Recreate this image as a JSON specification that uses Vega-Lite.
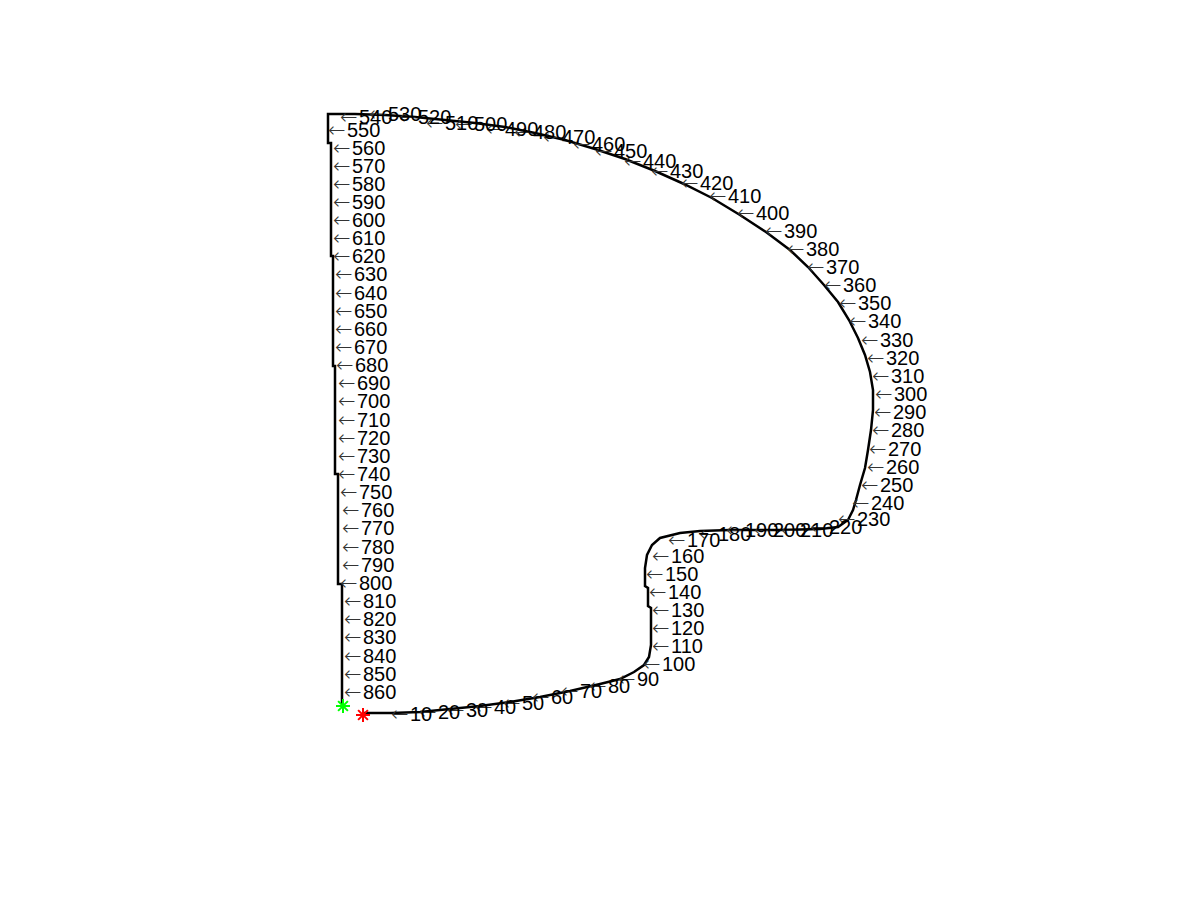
{
  "$schema": "https://vega.github.io/schema/vega-lite/v6.json",
  "width": 1200,
  "height": 900,
  "autosize": {"type": "fit", "contains": "padding"},
  "padding": 0,
  "background": "white",
  "config": {"view": {"stroke": null}},
  "datasets": {
    "path": [
      {"i": 0, "x": 363, "y": 713},
      {"i": 1, "x": 391, "y": 713},
      {"i": 2, "x": 420, "y": 712},
      {"i": 3, "x": 450, "y": 709},
      {"i": 4, "x": 480, "y": 706},
      {"i": 5, "x": 510, "y": 702},
      {"i": 6, "x": 540, "y": 697},
      {"i": 7, "x": 570, "y": 691},
      {"i": 8, "x": 600, "y": 684},
      {"i": 9, "x": 620, "y": 679},
      {"i": 10, "x": 634, "y": 672},
      {"i": 11, "x": 644, "y": 665},
      {"i": 12, "x": 649, "y": 657},
      {"i": 13, "x": 651, "y": 645},
      {"i": 14, "x": 651, "y": 608},
      {"i": 15, "x": 648, "y": 606},
      {"i": 16, "x": 648, "y": 588},
      {"i": 17, "x": 645, "y": 586},
      {"i": 18, "x": 645, "y": 568},
      {"i": 19, "x": 647, "y": 555},
      {"i": 20, "x": 652, "y": 545},
      {"i": 21, "x": 660, "y": 538},
      {"i": 22, "x": 680, "y": 533},
      {"i": 23, "x": 700, "y": 531},
      {"i": 24, "x": 730, "y": 530},
      {"i": 25, "x": 780, "y": 530},
      {"i": 26, "x": 820, "y": 529},
      {"i": 27, "x": 838, "y": 527},
      {"i": 28, "x": 848, "y": 520},
      {"i": 29, "x": 853, "y": 510},
      {"i": 30, "x": 856, "y": 500},
      {"i": 31, "x": 860, "y": 485},
      {"i": 32, "x": 865, "y": 468},
      {"i": 33, "x": 868, "y": 450},
      {"i": 34, "x": 871, "y": 430},
      {"i": 35, "x": 873, "y": 410},
      {"i": 36, "x": 873, "y": 390},
      {"i": 37, "x": 870, "y": 372},
      {"i": 38, "x": 865, "y": 355},
      {"i": 39, "x": 858, "y": 338},
      {"i": 40, "x": 849, "y": 320},
      {"i": 41, "x": 838, "y": 302},
      {"i": 42, "x": 824, "y": 285},
      {"i": 43, "x": 808, "y": 267},
      {"i": 44, "x": 790, "y": 250},
      {"i": 45, "x": 766, "y": 232},
      {"i": 46, "x": 740, "y": 215},
      {"i": 47, "x": 712, "y": 198},
      {"i": 48, "x": 684, "y": 184},
      {"i": 49, "x": 655, "y": 171},
      {"i": 50, "x": 625, "y": 159},
      {"i": 51, "x": 595, "y": 149},
      {"i": 52, "x": 565, "y": 140},
      {"i": 53, "x": 535, "y": 133},
      {"i": 54, "x": 505, "y": 127},
      {"i": 55, "x": 475, "y": 123},
      {"i": 56, "x": 445, "y": 120},
      {"i": 57, "x": 415, "y": 117},
      {"i": 58, "x": 385, "y": 115},
      {"i": 59, "x": 355, "y": 114},
      {"i": 60, "x": 328, "y": 114},
      {"i": 61, "x": 328, "y": 143},
      {"i": 62, "x": 331, "y": 143},
      {"i": 63, "x": 331, "y": 256},
      {"i": 64, "x": 333, "y": 256},
      {"i": 65, "x": 333, "y": 366},
      {"i": 66, "x": 335, "y": 366},
      {"i": 67, "x": 335, "y": 474},
      {"i": 68, "x": 338, "y": 474},
      {"i": 69, "x": 338, "y": 584},
      {"i": 70, "x": 342, "y": 584},
      {"i": 71, "x": 342, "y": 704}
    ],
    "labels": [
      {"n": 10, "x": 391, "y": 715},
      {"n": 20, "x": 419, "y": 713},
      {"n": 30, "x": 447, "y": 711},
      {"n": 40, "x": 475, "y": 708},
      {"n": 50, "x": 503, "y": 704},
      {"n": 60, "x": 532, "y": 698},
      {"n": 70, "x": 561, "y": 692},
      {"n": 80, "x": 589, "y": 687},
      {"n": 90, "x": 618, "y": 680},
      {"n": 100, "x": 643, "y": 665},
      {"n": 110, "x": 652, "y": 647},
      {"n": 120, "x": 652, "y": 629},
      {"n": 130, "x": 652, "y": 611},
      {"n": 140, "x": 649, "y": 593},
      {"n": 150, "x": 646, "y": 575},
      {"n": 160, "x": 652, "y": 557},
      {"n": 170, "x": 668, "y": 541},
      {"n": 180, "x": 699, "y": 535},
      {"n": 190, "x": 726, "y": 531},
      {"n": 200, "x": 754, "y": 531},
      {"n": 210, "x": 781, "y": 531},
      {"n": 220, "x": 810, "y": 528},
      {"n": 230, "x": 838, "y": 520},
      {"n": 240, "x": 852, "y": 504},
      {"n": 250, "x": 861, "y": 486},
      {"n": 260, "x": 867, "y": 468},
      {"n": 270, "x": 869, "y": 450},
      {"n": 280, "x": 872, "y": 431},
      {"n": 290, "x": 874, "y": 413},
      {"n": 300, "x": 875, "y": 395},
      {"n": 310, "x": 872, "y": 377},
      {"n": 320, "x": 867, "y": 359},
      {"n": 330, "x": 861, "y": 341},
      {"n": 340, "x": 849, "y": 322},
      {"n": 350, "x": 839, "y": 304},
      {"n": 360, "x": 824, "y": 286},
      {"n": 370, "x": 807, "y": 268},
      {"n": 380, "x": 787, "y": 250},
      {"n": 390, "x": 765, "y": 232},
      {"n": 400, "x": 737, "y": 214},
      {"n": 410, "x": 709, "y": 197},
      {"n": 420, "x": 681, "y": 184},
      {"n": 430, "x": 651, "y": 172},
      {"n": 440, "x": 624, "y": 162},
      {"n": 450, "x": 595, "y": 152},
      {"n": 460, "x": 573, "y": 145},
      {"n": 470, "x": 543, "y": 138},
      {"n": 480, "x": 514, "y": 133},
      {"n": 490, "x": 486, "y": 130},
      {"n": 500, "x": 455, "y": 125},
      {"n": 510, "x": 426, "y": 124},
      {"n": 520, "x": 399, "y": 118},
      {"n": 530, "x": 369, "y": 115},
      {"n": 540, "x": 340, "y": 118},
      {"n": 550, "x": 328, "y": 131},
      {"n": 560, "x": 333, "y": 149},
      {"n": 570, "x": 333, "y": 167},
      {"n": 580, "x": 333, "y": 185},
      {"n": 590, "x": 333, "y": 203},
      {"n": 600, "x": 333, "y": 221},
      {"n": 610, "x": 333, "y": 239},
      {"n": 620, "x": 333, "y": 257},
      {"n": 630, "x": 335, "y": 275},
      {"n": 640, "x": 335, "y": 294},
      {"n": 650, "x": 335, "y": 312},
      {"n": 660, "x": 335, "y": 330},
      {"n": 670, "x": 335, "y": 348},
      {"n": 680, "x": 336, "y": 366},
      {"n": 690, "x": 338, "y": 384},
      {"n": 700, "x": 338, "y": 402},
      {"n": 710, "x": 338, "y": 421},
      {"n": 720, "x": 338, "y": 439},
      {"n": 730, "x": 338, "y": 457},
      {"n": 740, "x": 338, "y": 475},
      {"n": 750, "x": 340, "y": 493},
      {"n": 760, "x": 342, "y": 511},
      {"n": 770, "x": 342, "y": 529},
      {"n": 780, "x": 342, "y": 548},
      {"n": 790, "x": 342, "y": 566},
      {"n": 800, "x": 340, "y": 584},
      {"n": 810, "x": 344, "y": 602},
      {"n": 820, "x": 344, "y": 620},
      {"n": 830, "x": 344, "y": 638},
      {"n": 840, "x": 344, "y": 657},
      {"n": 850, "x": 344, "y": 675},
      {"n": 860, "x": 344, "y": 693}
    ],
    "ends": [
      {"which": "start", "x": 363, "y": 715},
      {"which": "end", "x": 343, "y": 706}
    ]
  },
  "layer": [
    {
      "data": {"name": "path"},
      "mark": {"type": "line", "color": "black", "strokeWidth": 2.5, "interpolate": "linear"},
      "encoding": {
        "x": {"field": "x", "type": "quantitative", "scale": {"domain": [0, 1200], "nice": false, "zero": false}, "axis": null},
        "y": {"field": "y", "type": "quantitative", "scale": {"domain": [0, 900], "nice": false, "zero": false, "reverse": true}, "axis": null},
        "order": {"field": "i", "type": "quantitative"}
      }
    },
    {
      "data": {"name": "labels"},
      "mark": {"type": "text", "text": "←", "align": "left", "baseline": "middle", "font": "DejaVu Sans", "fontSize": 21, "fontWeight": 200, "color": "#333333"},
      "encoding": {
        "x": {"field": "x", "type": "quantitative"},
        "y": {"field": "y", "type": "quantitative"}
      }
    },
    {
      "data": {"name": "labels"},
      "mark": {"type": "text", "align": "left", "baseline": "middle", "dx": 19, "font": "Liberation Sans, Arial", "fontSize": 20, "color": "black"},
      "encoding": {
        "x": {"field": "x", "type": "quantitative"},
        "y": {"field": "y", "type": "quantitative"},
        "text": {"field": "n", "type": "quantitative", "format": "d"}
      }
    },
    {
      "data": {"name": "ends"},
      "mark": {"type": "point", "shape": "M-1,0L1,0M0,-1L0,1M-0.7,-0.7L0.7,0.7M-0.7,0.7L0.7,-0.7", "size": 196, "strokeWidth": 2, "filled": false, "opacity": 1},
      "encoding": {
        "x": {"field": "x", "type": "quantitative"},
        "y": {"field": "y", "type": "quantitative"},
        "color": {"field": "which", "type": "nominal", "scale": {"domain": ["start", "end"], "range": ["#ff0000", "#00ff00"]}, "legend": null}
      }
    }
  ]
}
